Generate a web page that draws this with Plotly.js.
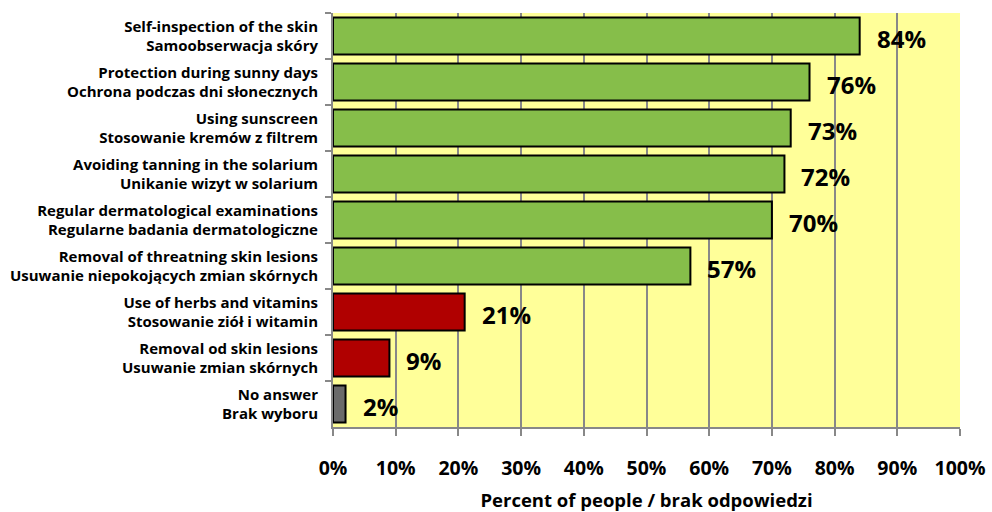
<!DOCTYPE html>
<html><head><meta charset="utf-8">
<script src="https://cdn.plot.ly/plotly-3.0.1.min.js"></script>
<style>body{margin:0;background:#fff}#c{width:992px;height:512px}</style>
</head><body><div id="c"></div>
<script>
const categoriesEN = [
  "Self-inspection of the skin",
  "Protection during sunny days",
  "Using sunscreen",
  "Avoiding tanning in the solarium",
  "Regular dermatological examinations",
  "Removal of threatning skin lesions",
  "Use of herbs and vitamins",
  "Removal od skin lesions",
  "No answer"
];
const categoriesPL = [
  "Samoobserwacja skóry",
  "Ochrona podczas dni słonecznych",
  "Stosowanie kremów z filtrem",
  "Unikanie wizyt w solarium",
  "Regularne badania dermatologiczne",
  "Usuwanie niepokojących zmian skórnych",
  "Stosowanie ziół i witamin",
  "Usuwanie zmian skórnych",
  "Brak wyboru"
];
const values = [84, 76, 73, 72, 70, 57, 21, 9, 2];
const barColors = ["#86BE4A","#86BE4A","#86BE4A","#86BE4A","#86BE4A","#86BE4A","#B00000","#B00000","#6A6A6A"];
const xTickVals = [0,10,20,30,40,50,60,70,80,90,100];
const xTickText = xTickVals.map(v => v + "%");
const axisTitle = "Percent of people / brak odpowiedzi";

const categories = categoriesEN.map((e, i) => e + "<br>" + categoriesPL[i]);
const font = "'Open Sans', sans-serif";
const trace = {
  type: "bar", orientation: "h",
  x: values, y: categories,
  marker: {color: barColors, line: {color: "#000", width: 2}},
  hoverinfo: "x+y"
};
const annotations = values.map((v, i) => ({
  x: v, y: categories[i], xref: "x", yref: "y",
  text: "<b>" + v + "%</b>", showarrow: false,
  xanchor: "left", xshift: 15, yshift: -2,
  font: {family: font, size: 24, color: "#000"}
}));
const layout = {
  width: 992, height: 512,
  margin: {l: 333, r: 32, t: 13, b: 85},
  paper_bgcolor: "#fff", plot_bgcolor: "#FFFF99",
  showlegend: false, bargap: 0.2,
  font: {family: font, color: "#000"},
  xaxis: {
    range: [0, 100], tickvals: xTickVals, ticktext: xTickText,
    showgrid: true, gridcolor: "#888", gridwidth: 2,
    zeroline: false, showline: true, linecolor: "#888", linewidth: 2,
    ticks: "outside", ticklen: 7, tickcolor: "#888", tickwidth: 2,
    tickfont: {family: font, size: 19.5, color: "#000", weight: "bold"},
    ticklabelstandoff: 16,
    title: {text: "<b>" + axisTitle + "</b>", font: {family: font, size: 18.5, color: "#000"}, standoff: 16},
    fixedrange: true
  },
  yaxis: {
    type: "category", autorange: "reversed",
    showline: true, linecolor: "#888", linewidth: 2,
    ticks: "outside", tickson: "boundaries", ticklen: 6, tickcolor: "#888", tickwidth: 2,
    showgrid: false,
    tickfont: {family: font, size: 15, color: "#000", weight: "bold"},
    ticklabelstandoff: 10,
    fixedrange: true
  },
  annotations: annotations
};
Plotly.newPlot("c", [trace], layout, {displayModeBar: false, staticPlot: true});
</script></body></html>
